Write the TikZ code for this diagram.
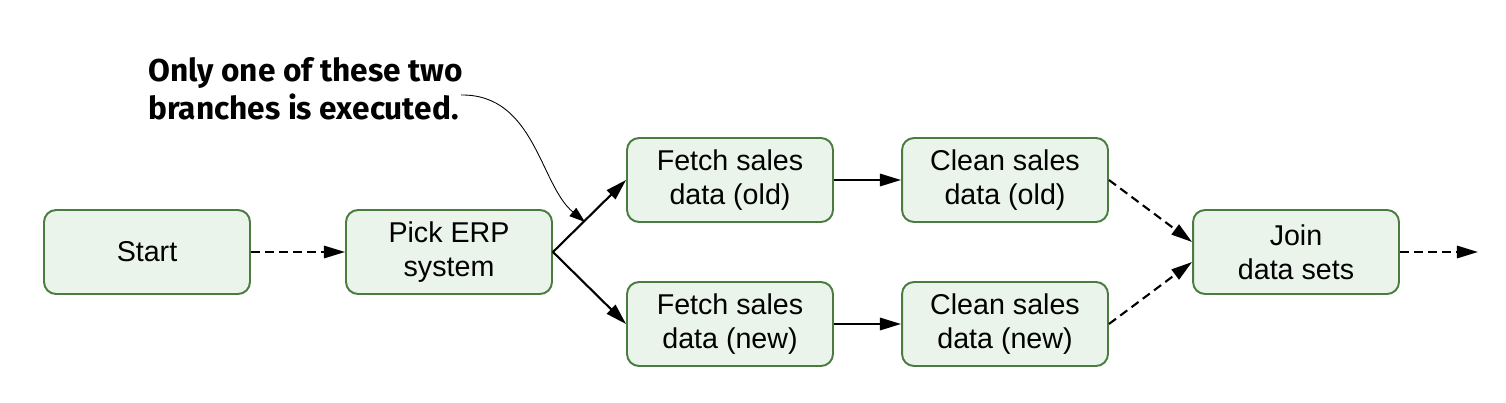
\documentclass[tikz,border=0pt]{standalone}
\usepackage{fontspec}
\setmainfont{Liberation Sans}
\newfontfamily\annfont{Fira Sans}
\usetikzlibrary{arrows.meta}
\definecolor{boxline}{HTML}{4A7C3F}
\definecolor{boxfill}{HTML}{EAF4EA}
\begin{document}
\begin{tikzpicture}[x=0.02cm,y=-0.02cm,
  box/.style={draw=boxline,fill=boxfill,line width=1.1pt,rounded corners=0.24cm,
    minimum width=4.12cm,minimum height=1.68cm,align=center,inner sep=0pt,
    font=\fontsize{16.3}{19.4}\selectfont},
  flow/.style={-{Triangle[length=12pt,width=7pt]},line width=1.2pt},
  dflow/.style={flow,dash pattern=on 5pt off 3pt},
  note/.style={-{Triangle[length=9pt,width=6pt]},line width=0.5pt}]
\useasboundingbox (0,0) rectangle (1506,402);
\node[box] (start) at (147,252) {Start};
\node[box] (pick) at (449,252) {Pick ERP\\system};
\node[box] (fold) at (730,180) {Fetch sales\\data (old)};
\node[box] (fnew) at (730,324) {Fetch sales\\data (new)};
\node[box] (cold) at (1005,180) {Clean sales\\data (old)};
\node[box] (cnew) at (1005,324) {Clean sales\\data (new)};
\node[box] (join) at (1296,252) {Join\\data sets};
\coordinate (out) at (1478,252);
\node[anchor=north west,align=left,inner sep=0pt,
  font=\annfont\bfseries\fontsize{18}{21.6}\selectfont] (ann) at (148,57)
  {Only one of these two\\branches is executed.};
\coordinate (annstart) at (461,95);
\draw[dflow] (start) -- (pick);
\draw[flow] (pick.east) -- (fold.west);
\draw[flow] (pick.east) -- (fnew.west);
\draw[flow] (fold) -- (cold);
\draw[flow] (fnew) -- (cnew);
\draw[dflow] (cold.east) -- ([yshift=0.2cm]join.west);
\draw[dflow] (cnew.east) -- ([yshift=-0.2cm]join.west);
\draw[dflow] (join) -- (out);
\draw[note] (annstart) .. controls (535,94) and (540,185) .. (585,222);
\end{tikzpicture}
\end{document}
